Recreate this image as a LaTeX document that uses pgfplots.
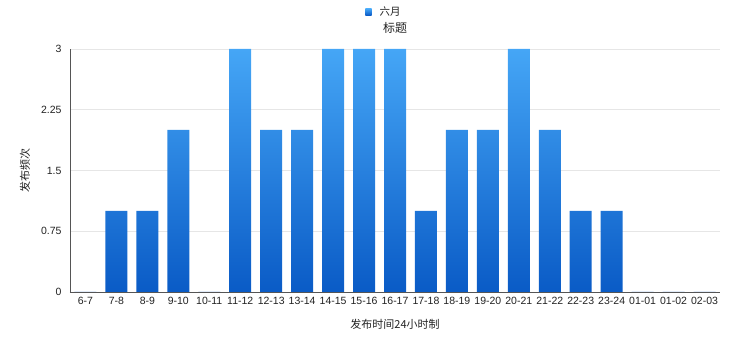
\documentclass[border=0pt]{standalone}
\usepackage{fontspec}
\setmainfont{Liberation Sans}
\newfontfamily\cjk{Noto Sans CJK SC}
\usepackage{pgfplots}
\pgfplotsset{compat=1.18}
\definecolor{bartop}{HTML}{45A6F6}
\definecolor{barbot}{HTML}{0A5BC6}
\definecolor{gridc}{HTML}{E6E6E6}
\definecolor{axc}{HTML}{555555}
\definecolor{txt}{HTML}{222222}
\begin{document}
\begin{tikzpicture}
\begin{axis}[
  scale only axis,
  width=650pt, height=243pt,
  ybar, bar width=22pt,
  xmin=-0.5, xmax=20.5,
  ymin=0, ymax=3,
  ytick={0,0.75,1.5,2.25,3},
  yticklabels={0,0.75,1.5,2.25,3},
  xtick={0,...,20},
  xticklabels={6-7,7-8,8-9,9-10,10-11,11-12,12-13,13-14,14-15,15-16,16-17,17-18,18-19,19-20,20-21,21-22,22-23,23-24,01-01,01-02,02-03},
  /pgf/number format/assume math mode=true,
  ticklabel style={font=\fontsize{10.5}{12}\selectfont, text=txt},
  yticklabel style={xshift=-5pt},
  xticklabel style={yshift=-2pt},
  major tick length=0pt,
  axis x line=bottom, axis y line=left,
  axis line style={-, axc, line width=0.8pt},
  ymajorgrids, grid style={gridc, line width=0.6pt},
  ylabel={\cjk 发布频次}, ylabel style={font=\fontsize{11}{13}\selectfont, text=txt, yshift=4pt},
  xlabel={\cjk 发布时间24小时制}, xlabel style={font=\fontsize{11}{13}\selectfont, text=txt, yshift=-7pt},
  legend style={at={(0.483,1)}, yshift=37pt, anchor=center, draw=none, fill=none, font=\fontsize{10.5}{12}\selectfont\cjk, text=txt},
  legend image code/.code={\fill[barbot!80!bartop] (0cm,-0.11cm) rectangle (0.22cm,0.11cm);},
  legend cell align=left,
  legend style={/tikz/every even column/.style={column sep=6pt}},
  clip=false,
]
\addplot[draw=none, top color=bartop, bottom color=barbot] coordinates {
(0,0) (1,1) (2,1) (3,2) (4,0) (5,3) (6,2) (7,2) (8,3) (9,3) (10,3) (11,1) (12,2) (13,2) (14,3) (15,2) (16,1) (17,1) (18,0) (19,0) (20,0)
};
\addlegendentry{\hspace{6pt}六月}
\node[font=\fontsize{12}{14}\selectfont\cjk, text=txt] at ([yshift=21pt]rel axis cs:0.5,1) {标题};
\end{axis}
\path[use as bounding box] (-70pt,-69pt) rectangle (680pt,292pt);
\end{tikzpicture}
\end{document}
